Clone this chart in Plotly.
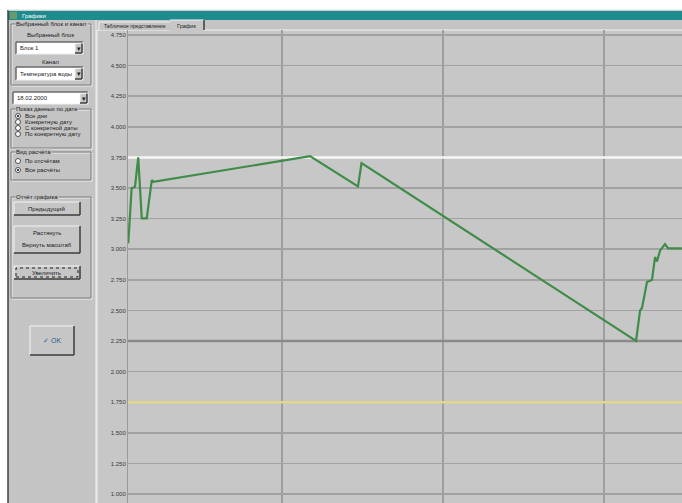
import plotly.graph_objects as go

W, H = 682, 503

# ---------------- data ----------------
time_x = [0.045, 0.066, 0.087, 0.107, 0.129, 0.160, 0.191, 0.201, 1.174, 1.472,
          1.494, 3.199, 3.224, 3.236, 3.267, 3.298, 3.317, 3.329, 3.348, 3.379,
          3.398, 3.484]
level_y = [3.048, 3.498, 3.511, 3.750, 3.252, 3.252, 3.565, 3.551, 3.760, 3.512,
           3.704, 2.250, 2.498, 2.520, 2.732, 2.748, 2.936, 2.900, 2.988, 3.042,
           3.007, 3.007]
y_ticks = [4.75 - 0.25 * i for i in range(16)]
y_labels = [f"{v:.3f}" for v in y_ticks]
x_grid = [1, 2, 3]
upper_limit = 3.75
lower_limit = 2.25
alarm_level = 1.75

tab_labels = ["Табличное представление", "График"]
title_text = "Графики"

# ---------------- helpers ----------------
shapes = []
annots = []


def px(x):
    return x / W


def py(y):
    return 1 - y / H


def rect(x0, y0, x1, y1, fill, line="rgba(0,0,0,0)", lw=0, layer="below"):
    shapes.append(dict(type="rect", xref="paper", yref="paper",
                       x0=px(x0), x1=px(x1), y0=py(y1), y1=py(y0),
                       fillcolor=fill, line=dict(color=line, width=lw), layer=layer))


def hline(x0, x1, y, color, lw=1, layer="below"):
    shapes.append(dict(type="line", xref="paper", yref="paper",
                       x0=px(x0), x1=px(x1), y0=py(y), y1=py(y),
                       line=dict(color=color, width=lw), layer=layer))


def vline(x, y0, y1, color, lw=1, layer="below"):
    shapes.append(dict(type="line", xref="paper", yref="paper",
                       x0=px(x), x1=px(x), y0=py(y0), y1=py(y1),
                       line=dict(color=color, width=lw), layer=layer))


def raised(x0, y0, x1, y1, fill="#c6c6c6"):
    rect(x0, y0, x1, y1, fill)
    hline(x0, x1, y0, "#f4f4f4")
    vline(x0, y0, y1, "#f4f4f4")
    hline(x0, x1, y1, "#3c3c3c", 1.5)
    vline(x1, y0, y1, "#3c3c3c", 1.5)


def sunken(x0, y0, x1, y1, fill="#ffffff"):
    rect(x0, y0, x1, y1, fill)
    hline(x0, x1, y0, "#6a6a6a", 1.5)
    vline(x0, y0, y1, "#6a6a6a", 1.5)
    hline(x0, x1, y1, "#f0f0f0")
    vline(x1, y0, y1, "#f0f0f0")


def group(x0, y0, x1, y1, label):
    shapes.append(dict(type="rect", xref="paper", yref="paper",
                       x0=px(x0 + 1), x1=px(x1 + 1), y0=py(y1 + 1), y1=py(y0 + 1),
                       line=dict(color="#f0f0f0", width=1), layer="below"))
    shapes.append(dict(type="rect", xref="paper", yref="paper",
                       x0=px(x0), x1=px(x1), y0=py(y1), y1=py(y0),
                       line=dict(color="#7a7a7a", width=1), layer="below"))
    text(x0 + 4, y0, label, anchor="left", bg="#c3c3c3")


def text(x, y, s, anchor="left", size=6, color="#202020", bg=None):
    a = dict(x=px(x), y=py(y), xref="paper", yref="paper", text=s, showarrow=False,
             xanchor=anchor, yanchor="middle",
             font=dict(family="Liberation Sans, Arial, sans-serif", size=size, color=color))
    if bg:
        a["bgcolor"] = bg
        a["borderpad"] = 0
    annots.append(a)


def combo(x0, y0, x1, y1, s):
    sunken(x0, y0, x1, y1)
    raised(x1 - 8, y0 + 1.5, x1 - 1, y1 - 1)
    text(x1 - 4.5, (y0 + y1) / 2, "▾", anchor="center", size=7)
    text(x0 + 2, (y0 + y1) / 2, s)


def radio(x, y, s, on=False):
    shapes.append(dict(type="circle", xref="paper", yref="paper",
                       x0=px(x - 2.5), x1=px(x + 2.5), y0=py(y + 2.5), y1=py(y - 2.5),
                       fillcolor="#ffffff", line=dict(color="#505050", width=1), layer="below"))
    if on:
        shapes.append(dict(type="circle", xref="paper", yref="paper",
                           x0=px(x - 1), x1=px(x + 1), y0=py(y + 1), y1=py(y - 1),
                           fillcolor="#000000", line=dict(width=0), layer="below"))
    text(x + 5, y, s)


# ---------------- window chrome ----------------
rect(8, 10, W, H, "#c4c4c4")
rect(8, 11, W, 20, "#1e8c8e")
rect(10, 12, 17, 19, "#6a9a6a")
text(20, 15.5, title_text, size=6, color="#ffffff")
vline(8, 10, H, "#404040", 1.5)
hline(8, W, 10, "#dcdcdc")

# left panel
group(11, 24, 91, 85, "Выбранный блок и канал")
text(50, 35, "Выбранный блок", anchor="center")
combo(16, 42, 83, 54, "Блок 1")
text(50, 62, "Канал", anchor="center")
combo(16, 67, 83, 80, "Температура воды")
combo(13, 92, 88, 104, "18.02.2000")
group(11, 109, 91, 148, "Показ данных по дате")
radio(18, 116, "Все дни", True)
radio(18, 122, "Конкретную дату")
radio(18, 128, "С конкретной даты")
radio(18, 134, "По конкретную дату")
group(11, 152, 91, 180, "Вид расчёта")
radio(18, 161, "По отсчётам")
radio(18, 170, "Все расчёты", True)
group(11, 197, 91, 298, "Отчёт графика")
raised(14, 202, 80, 215)
text(47, 208.5, "Предыдущий", anchor="center")
raised(14, 226, 80, 253)
text(47, 233, "Растянуть", anchor="center")
text(47, 245, "Вернуть масштаб", anchor="center")
raised(14, 266, 80, 279)
shapes.append(dict(type="rect", xref="paper", yref="paper",
                   x0=px(16), x1=px(78), y0=py(277), y1=py(268),
                   line=dict(color="#202020", width=1, dash="dot"), layer="below"))
text(47, 272.5, "Увеличить", anchor="center")
raised(30, 326, 74, 355)
text(52, 340.5, "✓ OK", anchor="center", size=7, color="#1f5f8f")
vline(96, 20, H, "#f0f0f0")

# tab control
rect(97, 30, W, H, "#c7c7c7")
hline(97, W, 30, "#f2f2f2")
vline(97, 30, H, "#f2f2f2")
rect(99, 22, 170, 30, "#c4c4c4")
hline(99, 170, 22, "#f2f2f2")
vline(99, 22, 30, "#f2f2f2")
text(134.5, 26.5, tab_labels[0], anchor="center", size=5)
rect(170, 20, 204, 31, "#c7c7c7")
hline(170, 204, 20, "#f2f2f2")
vline(204, 20, 30, "#3c3c3c", 1.5)
text(187, 25.5, tab_labels[1], anchor="center", size=5.5)

# ---------------- chart ----------------
x_range = [(128 - 121) / 161, (W - 121) / 161]

fig = go.Figure()
for val, col in [(upper_limit, "#f6f6f6"), (lower_limit, "#8a8a8a"),
                 (alarm_level, "#e0d888")]:
    fig.add_trace(go.Scatter(x=x_range, y=[val, val], mode="lines",
                             line=dict(color=col, width=2.5), hoverinfo="skip",
                             showlegend=False, cliponaxis=True))
fig.add_trace(go.Scatter(x=time_x, y=level_y, mode="lines",
                         line=dict(color="#3f8c48", width=2.2), hoverinfo="skip",
                         showlegend=False))

fig.update_layout(
    width=W, height=H,
    margin=dict(l=0, r=0, t=0, b=0),
    paper_bgcolor="#ffffff",
    plot_bgcolor="#c7c7c7",
    showlegend=False,
    shapes=shapes,
    annotations=annots,
    xaxis=dict(domain=[128 / W, 1], range=x_range,
               tickvals=x_grid, showticklabels=False, ticks="",
               showgrid=True, gridcolor="#9e9e9e", gridwidth=1.2,
               zeroline=False, showline=False, automargin=False, fixedrange=True),
    yaxis=dict(domain=[0, 1 - 30 / H],
               range=[4.75 - (H - 35) / 122.4, 4.75 + 5 / 122.4],
               tickvals=y_ticks, ticktext=y_labels, ticks="",
               tickfont=dict(family="Liberation Sans, Arial, sans-serif", size=6, color="#383838"),
               showgrid=True, gridcolor="#a2a2a2", gridwidth=1.5,
               zeroline=False, showline=True, linecolor="#9a9a9a", linewidth=1,
               automargin=False, fixedrange=True),
)

fig.write_html("out.html", config={"displayModeBar": False, "staticPlot": True},
               post_script="document.body.style.margin='0';document.body.style.overflow='hidden';")
